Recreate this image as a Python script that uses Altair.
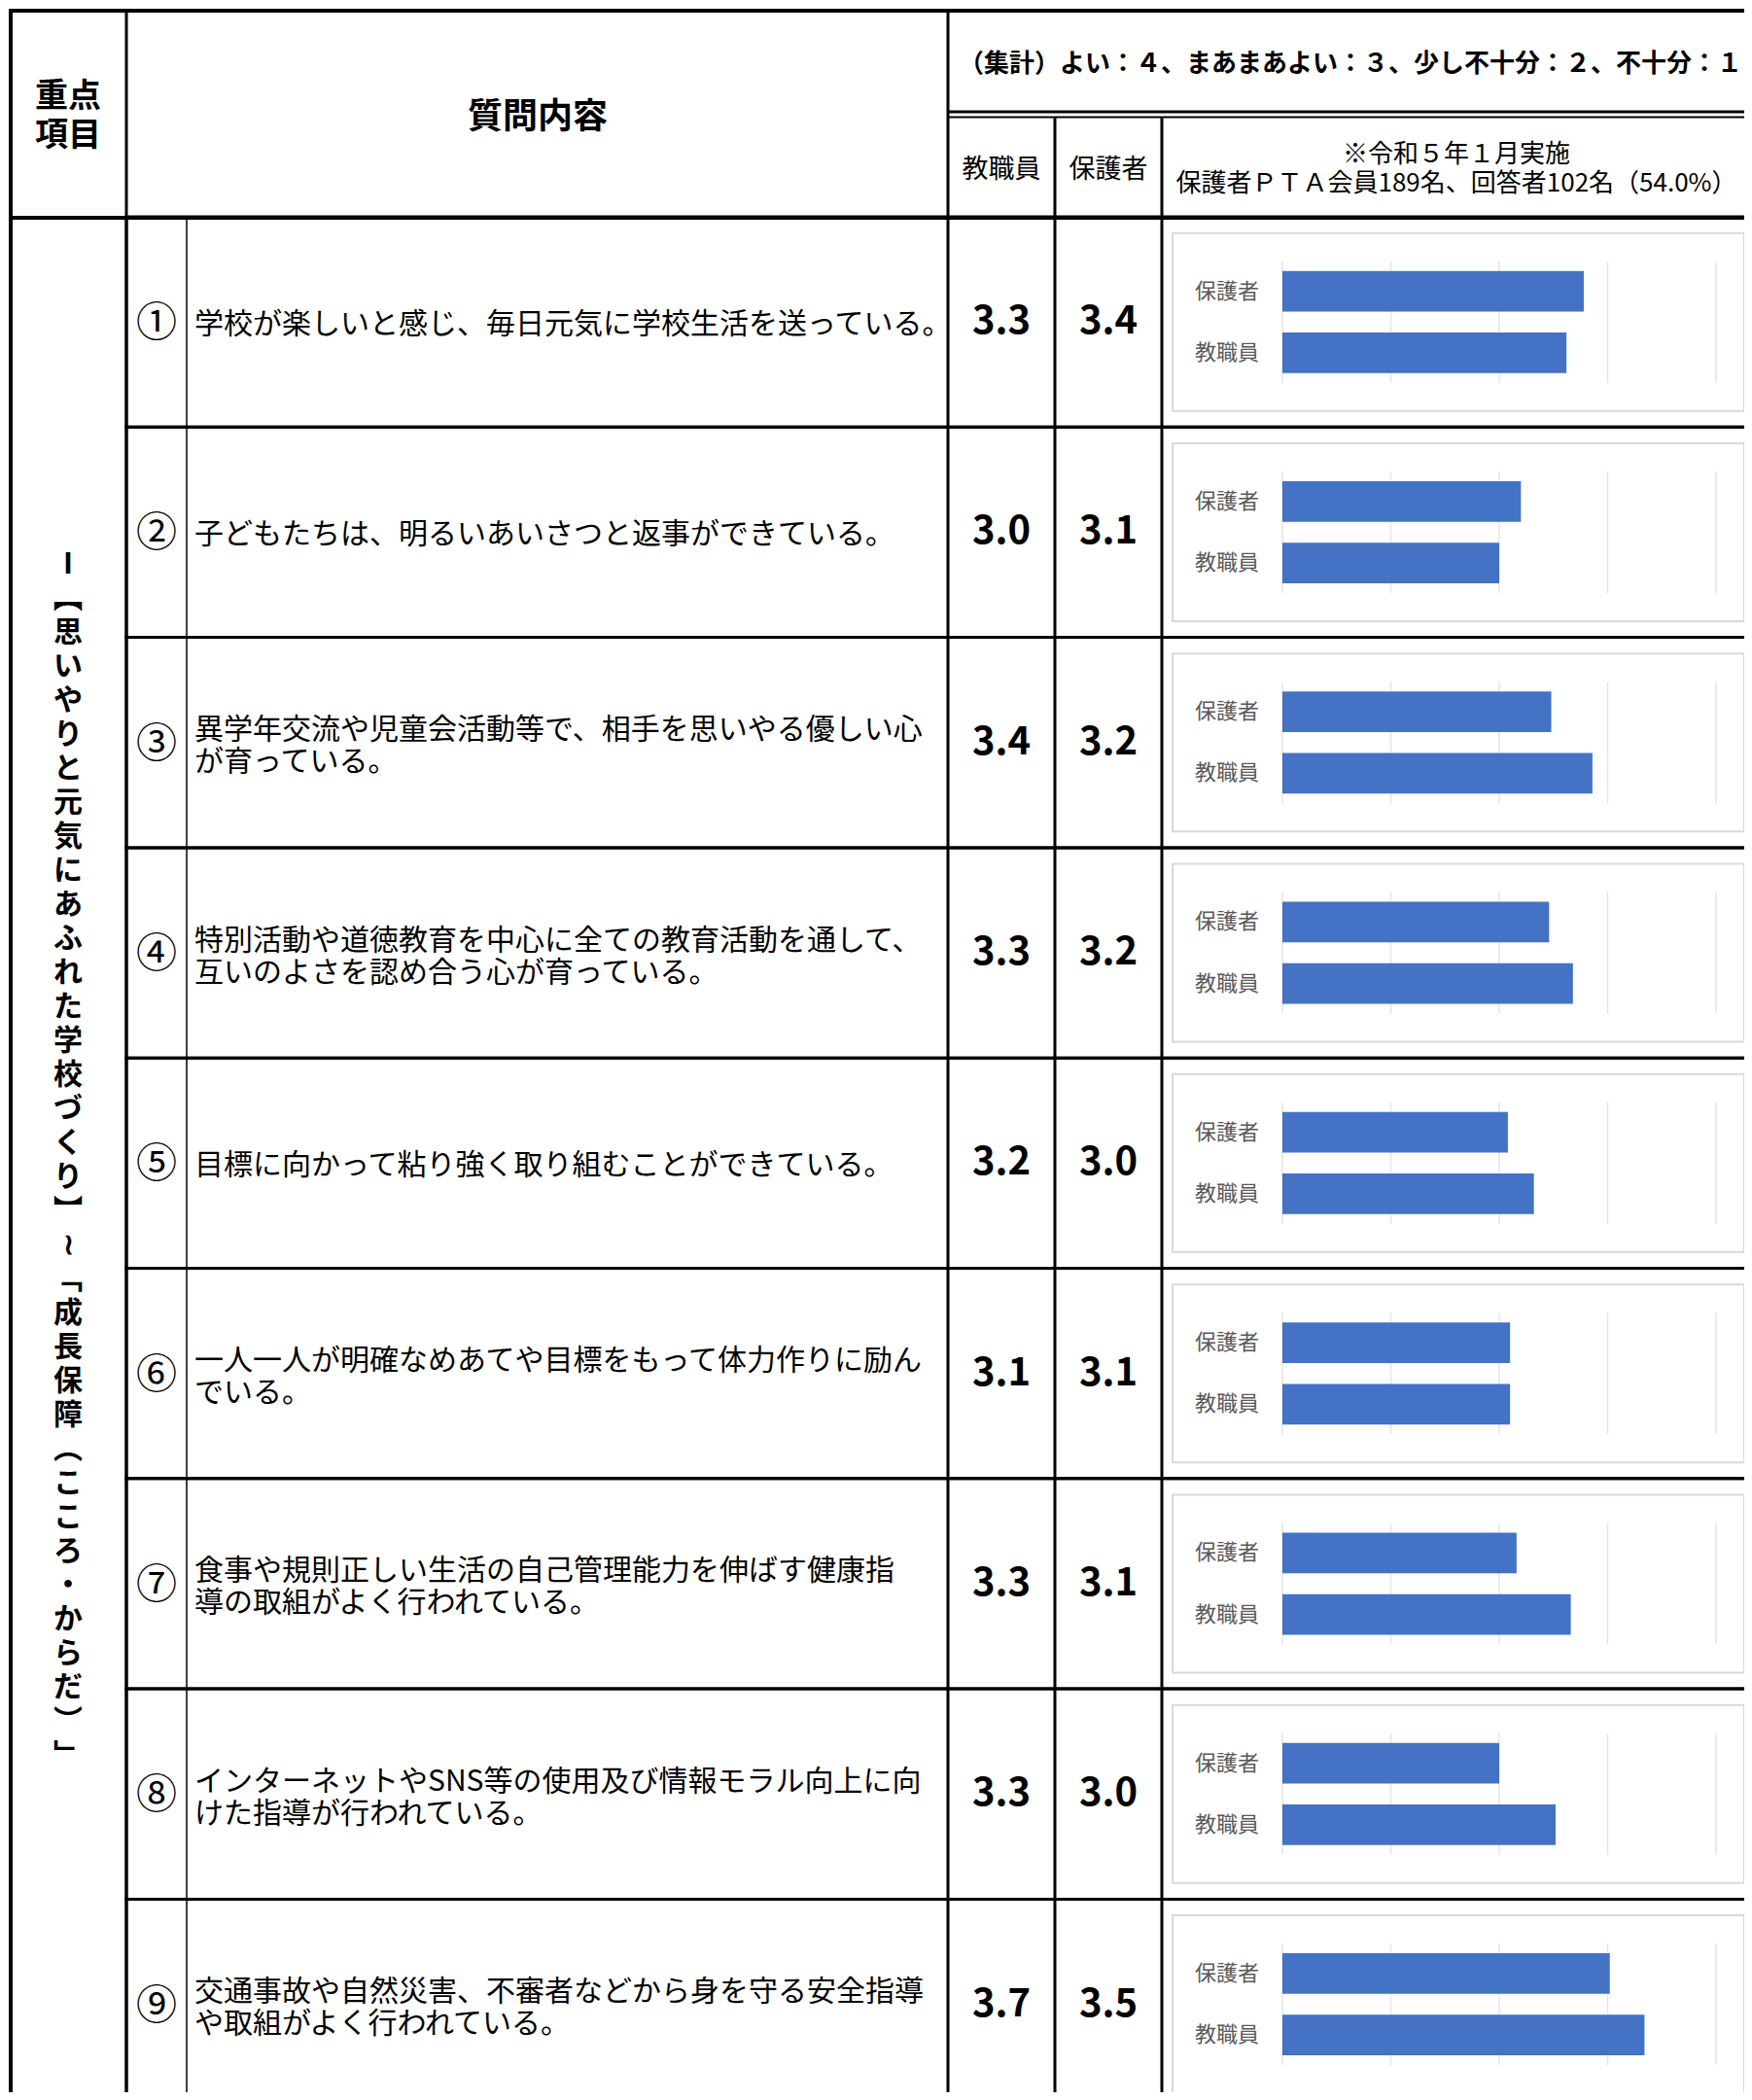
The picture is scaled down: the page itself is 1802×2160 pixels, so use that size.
import altair as alt
import pandas as pd

# ---------------- data ----------------
row_ids = [1, 2, 3, 4, 5, 6, 7, 8, 9]
row_marks = ["①", "②", "③", "④", "⑤", "⑥", "⑦", "⑧", "⑨"]
questions = [
    "学校が楽しいと感じ、毎日元気に学校生活を送っている。",
    "子どもたちは、明るいあいさつと返事ができている。",
    "異学年交流や児童会活動等で、相手を思いやる優しい心\nが育っている。",
    "特別活動や道徳教育を中心に全ての教育活動を通して、\n互いのよさを認め合う心が育っている。",
    "目標に向かって粘り強く取り組むことができている。",
    "一人一人が明確なめあてや目標をもって体力作りに励ん\nでいる。",
    "食事や規則正しい生活の自己管理能力を伸ばす健康指\n導の取組がよく行われている。",
    "インターネットやSNS等の使用及び情報モラル向上に向\nけた指導が行われている。",
    "交通事故や自然災害、不審者などから身を守る安全指導\nや取組がよく行われている。",
]
staff_score = [3.3, 3.0, 3.4, 3.3, 3.2, 3.1, 3.3, 3.3, 3.7]
parent_score = [3.4, 3.1, 3.2, 3.2, 3.0, 3.1, 3.1, 3.0, 3.5]
# bar lengths
parent_bar = [3.39, 3.10, 3.24, 3.23, 3.04, 3.05, 3.08, 3.00, 3.51]
staff_bar = [3.31, 3.00, 3.43, 3.34, 3.16, 3.05, 3.33, 3.26, 3.67]
series_names = ["保護者", "教職員"]
grid_values = [2.0, 2.5, 3.0, 3.5, 4.0]
axis_domain = [2.0, 4.0]

theme_text = "Ⅰ【思いやりと元気にあふれた学校づくり】～「成長保障（こころ・からだ）」"
head_focus = "重点\n項目"
head_question = "質問内容"
head_scale = "（集計）よい：４、まあまあよい：３、少し不十分：２、不十分：１"
head_staff = "教職員"
head_parent = "保護者"
head_note = "※令和５年１月実施\n保護者ＰＴＡ会員189名、回答者102名（54.0%）"

# ---------------- tables ----------------
rows_df = pd.DataFrame({
    "row": row_ids,
    "mark": row_marks,
    "q": questions,
    "nl": [q.count("\n") + 1 for q in questions],
    "staff": [f"{v:.1f}" for v in staff_score],
    "parent": [f"{v:.1f}" for v in parent_score],
})
bars_df = pd.DataFrame(
    [{"row": r, "series": "保護者", "value": p} for r, p in zip(row_ids, parent_bar)]
    + [{"row": r, "series": "教職員", "value": s} for r, s in zip(row_ids, staff_bar)]
)
grid_df = pd.DataFrame([{"row": r, "g": g} for r in row_ids for g in grid_values])

vert_map = {"【": "︻", "】": "︼", "「": "﹁", "」": "﹂", "（": "︵", "）": "︶", "～": "≀"}
theme_chars = [vert_map.get(c, c) for c in theme_text]
theme_vertical = "\n".join(theme_chars)

FONT = "Noto Sans CJK JP"

ROW_TOP = 215
ROW_H = 216.3
y_scale = alt.Scale(domain=row_ids, range=[ROW_TOP, ROW_TOP + ROW_H * len(row_ids)],
                    paddingInner=0, paddingOuter=0)
off_scale = alt.Scale(domain=series_names, paddingInner=0.34, paddingOuter=0.88)
x_scale = alt.Scale(domain=axis_domain, range=[1311, 1757], zero=False, nice=False)

Y = alt.Y("row:O", scale=y_scale, axis=None)
dummy = pd.DataFrame({"k": [0]})

layers = []

# row cell outlines
layers.append(alt.Chart(rows_df).mark_rect(fillOpacity=0, stroke="black", strokeWidth=3).encode(
    y=Y, x=alt.value(122), x2=alt.value(1840)))

# chart boxes
layers.append(alt.Chart(rows_df).mark_bar(size=183, fill="white", stroke="#d9d9d9", strokeWidth=2).encode(
    y=Y, x=alt.value(1198), x2=alt.value(1786)))

# gridlines
layers.append(alt.Chart(grid_df).mark_tick(color="#d9d9d9", thickness=1.5, size=125).encode(
    x=alt.X("g:Q", scale=x_scale, axis=None), y=Y))

# bars
layers.append(alt.Chart(bars_df).mark_bar(color="#4472C4").encode(
    y=Y,
    yOffset=alt.YOffset("series:N", scale=off_scale),
    x=alt.X("value:Q", scale=x_scale, axis=None),
    x2=alt.datum(2.0),
))

# bar category labels
layers.append(alt.Chart(bars_df).mark_text(font=FONT, fontSize=22, color="#595959", align="right",
                                           baseline="middle").encode(
    y=Y, yOffset=alt.YOffset("series:N", scale=off_scale), x=alt.value(1287), text="series:N"))

# circled numbers
layers.append(alt.Chart(rows_df).mark_text(font=FONT, fontSize=42, align="center", baseline="middle",
                                           color="black", dy=2).encode(
    y=Y, x=alt.value(153), text="mark:N"))

# questions (one-line and two-line, the latter shifted to stay centred)
Q_LH = 33
for n in (1, 2):
    layers.append(alt.Chart(rows_df).transform_filter(alt.datum.nl == n).mark_text(
        font=FONT, fontSize=30, align="left", baseline="middle",
        lineBreak="\n", lineHeight=Q_LH, color="black", dy=3 - (n - 1) * (Q_LH / 2 - 1)).encode(
        y=Y, x=alt.value(192), text="q:N"))

# scores
for field, xpos in (("staff", 1022), ("parent", 1132)):
    layers.append(alt.Chart(rows_df).mark_text(font=FONT, fontSize=40, fontWeight="bold", align="center",
                                               baseline="middle", color="black").encode(
        y=Y, x=alt.value(xpos), text=f"{field}:N"))


def label(txt, x, y, size, bold=False, align="center", lh=None):
    kw = dict(font=FONT, fontSize=size, align=align, baseline="middle", color="black", lineBreak="\n")
    if bold:
        kw["fontWeight"] = "bold"
    if lh:
        kw["lineHeight"] = lh
    n = txt.count("\n") + 1
    y0 = y - (n - 1) * (lh or 0) / 2
    return alt.Chart(pd.DataFrame({"t": [txt]})).mark_text(**kw).encode(
        x=alt.value(x), y=alt.value(y0), text="t:N")


layers.append(label(head_focus, 62, 112, 34, bold=True, lh=40))
layers.append(label(head_question, 545, 113, 36, bold=True))
layers.append(label(head_scale, 978, 58, 26, bold=True, align="left"))
layers.append(label(head_staff, 1022, 167, 27))
layers.append(label(head_parent, 1132, 167, 27))
layers.append(label(head_note, 1490, 166, 26, lh=30))
layers.append(label(theme_vertical, 62, 1185, 30, bold=True, lh=35))


def hline(y, x1, x2, w):
    return alt.Chart(dummy).mark_rule(color="black", strokeWidth=w).encode(
        y=alt.value(y), x=alt.value(x1), x2=alt.value(x2))


def vline(x, y1, y2, w):
    return alt.Chart(dummy).mark_rule(color="black", strokeWidth=w).encode(
        x=alt.value(x), y=alt.value(y1), y2=alt.value(y2))


BOTTOM = 2200
layers += [
    hline(3, 1, 1800, 4),
    vline(3, 1, BOTTOM, 4),
    vline(122, 3, BOTTOM, 3),
    hline(216, 3, 1800, 4),
    vline(967, 3, BOTTOM, 3),
    hline(107, 967, 1800, 3),
    hline(112.5, 967, 1800, 2),
    vline(1077, 112, BOTTOM, 3),
    vline(1187, 112, BOTTOM, 3),
    vline(184, 216, BOTTOM, 1.5),
]

chart = alt.layer(*layers).properties(
    width=1786, height=2144, padding=0,
    autosize=alt.AutoSizeParams(type="none"),
).configure_view(strokeWidth=0)

chart.save("out.html", embed_options={"renderer": "svg", "actions": False})
